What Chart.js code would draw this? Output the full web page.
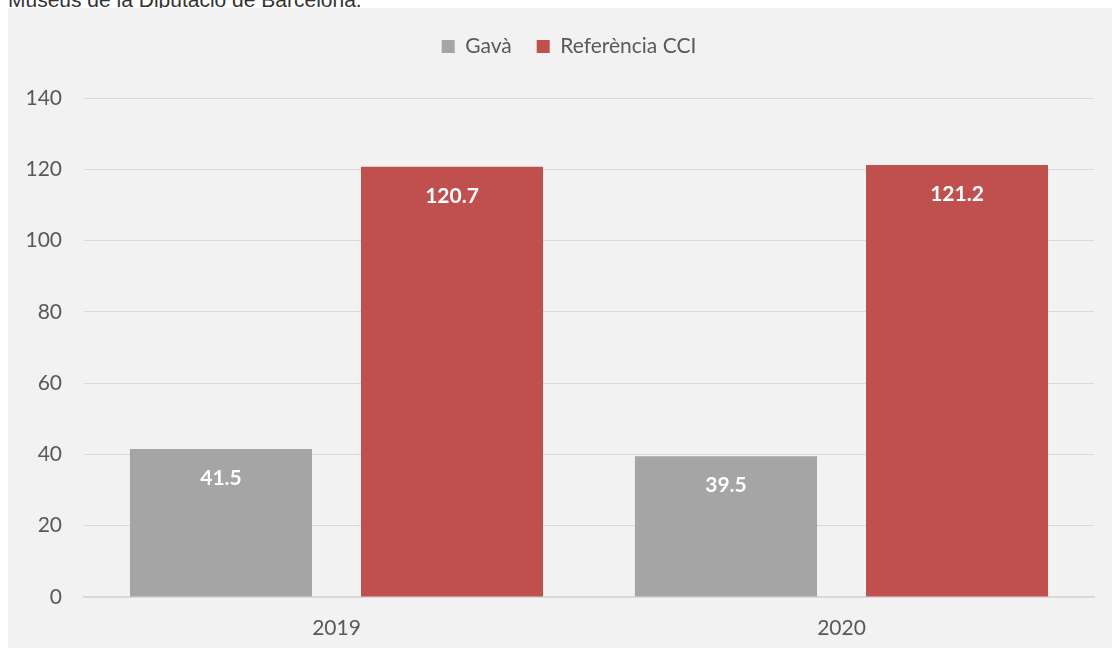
<!DOCTYPE html>
<html>
<head>
  <title>Gavà vs Referència CCI</title>
  <script src="https://cdn.jsdelivr.net/npm/chart.js"></script>
  <style>
    body { margin: 0; background: #fff; font-family: "Liberation Sans", Arial, sans-serif; }
    #caption {
        position: absolute; left: 8px; top: -12px;
        font-size: 21px; color: #333;
        white-space: nowrap;
    }
    #chartContainer {
        position: absolute; left: 8px; top: 8px;
        width: 1104px; height: 640px;
        background: #f2f2f2;
    }
  </style>
</head>
<body>
  <div id="caption">Museus de la Diputació de Barcelona.</div>
  <div id="chartContainer">
    <canvas id="myChart"></canvas>
  </div>

  <script>
    // dades
    const years = ['2019', '2020'];
    const gavaValues = [41.5, 39.5];
    const cciValues = [120.7, 121.2];
    const seriesNames = ['Gavà', 'Referència CCI'];

    const fontFamily = 'Lato, "Open Sans", sans-serif';

    // etiquetes dins de la barra + ajustos de la llegenda
    const barLabels = {
      id: 'barLabels',
      beforeInit(chart) {
        // una mica més d'espai sota la llegenda
        const fitOrig = chart.legend.fit;
        chart.legend.fit = function() {
          fitOrig.call(this);
          this.height += 31;
        };
      },
      afterLayout(chart) {
        // la llegenda queda una mica desplaçada a la dreta
        chart.legend.left += 18;
        chart.legend.right += 18;
      },
      afterDatasetsDraw(chart) {
        const ctx = chart.ctx;
        ctx.save();
        ctx.fillStyle = '#ffffff';
        ctx.font = 'bold 21px ' + fontFamily;
        ctx.textAlign = 'center';
        ctx.textBaseline = 'middle';
        chart.data.datasets.forEach((ds, i) => {
          chart.getDatasetMeta(i).data.forEach((bar, j) => {
            ctx.fillText(ds.data[j].toFixed(1), bar.x, bar.y + 29);
          });
        });
        ctx.restore();
      }
    };

    const ctx = document.getElementById('myChart').getContext('2d');
    const myChart = new Chart(ctx, {
      type: 'bar',
      data: {
        labels: years,
        datasets: [{
          label: seriesNames[0],
          data: gavaValues,
          backgroundColor: '#a5a5a5',
          categoryPercentage: 0.915,
          barPercentage: 0.788
        }, {
          label: seriesNames[1],
          data: cciValues,
          backgroundColor: '#c0504d',
          categoryPercentage: 0.915,
          barPercentage: 0.788
        }]
      },
      options: {
        responsive: true,
        maintainAspectRatio: false,
        animation: false,
        layout: { padding: { top: 3, right: 18, bottom: 0, left: 0 } },
        plugins: {
          tooltip: { enabled: false },
          legend: {
            position: 'top',
            labels: {
              boxWidth: 13, boxHeight: 13, padding: 25,
              color: '#595959',
              font: { family: fontFamily, size: 21 }
            }
          }
        },
        scales: {
          x: {
            afterFit(scale) { scale.height = 51; },
            grid: { display: false },
            border: { color: '#d9d9d9', width: 2 },
            ticks: { color: '#595959', font: { family: fontFamily, size: 21 }, padding: 11 }
          },
          y: {
            min: 0, max: 140,
            afterFit(scale) { scale.width = 76; },
            grid: { color: '#d9d9d9', drawTicks: false },
            border: { display: false },
            ticks: { stepSize: 20, color: '#595959', font: { family: fontFamily, size: 21 }, padding: 22 }
          }
        }
      },
      plugins: [barLabels]
    });
  </script>
</body>
</html>
